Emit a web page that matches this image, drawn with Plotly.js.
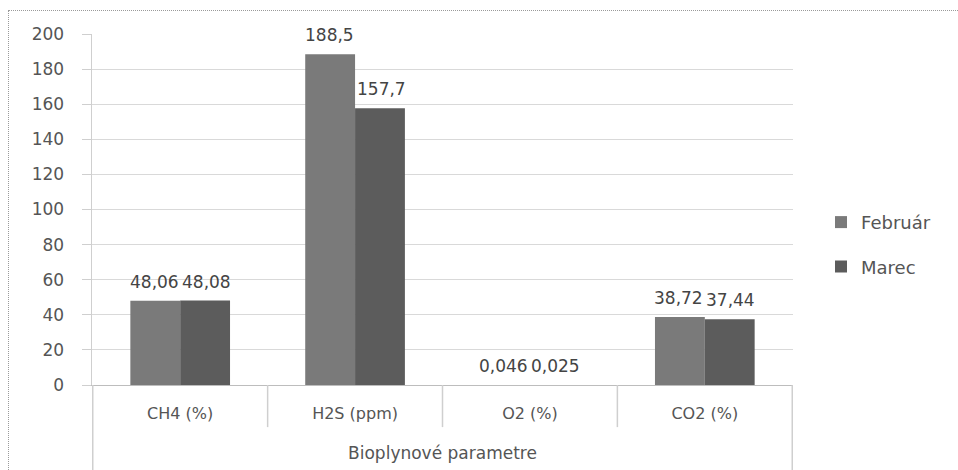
<!DOCTYPE html>
<html>
<head>
<meta charset="utf-8">
<script src="https://cdn.plot.ly/plotly-3.0.1.min.js"></script>
<style>
html,body{margin:0;padding:0;background:#fff;overflow:hidden;}
#chart{width:958px;height:470px;}
#frame{position:absolute;left:8px;top:10px;width:980px;height:500px;border:1px dotted #9a9a9a;pointer-events:none;}
</style>
</head>
<body>
<div id="chart"></div>
<div id="frame"></div>
<script>
// ---- data ----
const categories = ['CH4 (%)', 'H2S (ppm)', 'O2 (%)', 'CO2 (%)'];
const seriesNames = ['Február', 'Marec'];
const februar = [48.06, 188.5, 0.046, 38.72];
const marec = [48.08, 157.7, 0.025, 37.44];
const groupTitle = 'Bioplynové parametre';
const yTicks = [0, 20, 40, 60, 80, 100, 120, 140, 160, 180, 200];

const colors = ['#7a7a7a', '#5c5c5c'];
const fmt = v => String(v).replace('.', ',');
const series = [februar, marec];

const traces = series.map((vals, i) => ({
  type: 'bar',
  name: seriesNames[i],
  x: categories,
  y: vals,
  marker: {color: colors[i], line: {width: 0}},
  legendgroup: 'g' + i,
  hoverinfo: 'skip'
}));

const annotations = [];
series.forEach((vals, i) => {
  vals.forEach((v, j) => {
    annotations.push({
      x: categories[j], y: v, xref: 'x', yref: 'y',
      text: fmt(v), showarrow: false,
      xshift: i === 0 ? -26 : 26, yshift: 19,
      font: {family: 'DejaVu Sans', size: 17, color: '#444'}
    });
  });
});

const shapes = [];
for (let k = 0; k <= categories.length; k++) {
  const edge = (k === 0 || k === categories.length);
  shapes.push({
    type: 'line', xref: 'x', yref: 'paper',
    x0: k - 0.5, x1: k - 0.5, y0: 0, y1: edge ? -0.245 : -0.12,
    line: {color: '#cfcfcf', width: 1.5}
  });
}

const layout = {
  width: 958, height: 470,
  margin: {l: 92, r: 165, t: 34, b: 85},
  paper_bgcolor: '#fff', plot_bgcolor: '#fff',
  barmode: 'group', bargap: 0.43, bargroupgap: 0,
  showlegend: true,
  legend: {
    xref: 'container', yref: 'container',
    x: 0.857, y: 0.48, xanchor: 'left', yanchor: 'middle',
    font: {family: 'DejaVu Sans', size: 18, color: '#555'},
    tracegroupgap: 18, itemwidth: 30
  },
  xaxis: {
    type: 'category',
    showgrid: false, zeroline: false,
    showline: true, linecolor: '#bdbdbd', linewidth: 1,
    ticks: '', ticklabelstandoff: 14,
    tickfont: {family: 'DejaVu Sans', size: 16, color: '#555'},
    title: {text: groupTitle, standoff: 24, font: {family: 'DejaVu Sans', size: 17, color: '#555'}},
    fixedrange: true
  },
  yaxis: {
    range: [0, 200], tickvals: yTicks,
    showgrid: true, gridcolor: '#d9d9d9', gridwidth: 1,
    zeroline: false,
    showline: true, linecolor: '#cfcfcf', linewidth: 1.5,
    ticks: 'outside', ticklen: 9, tickcolor: '#cfcfcf',
    ticklabelstandoff: 14,
    tickfont: {family: 'DejaVu Sans', size: 17, color: '#555'},
    fixedrange: true
  },
  annotations: annotations,
  shapes: shapes
};

Plotly.newPlot('chart', traces, layout, {displayModeBar: false, staticPlot: true});
</script>
</body>
</html>
